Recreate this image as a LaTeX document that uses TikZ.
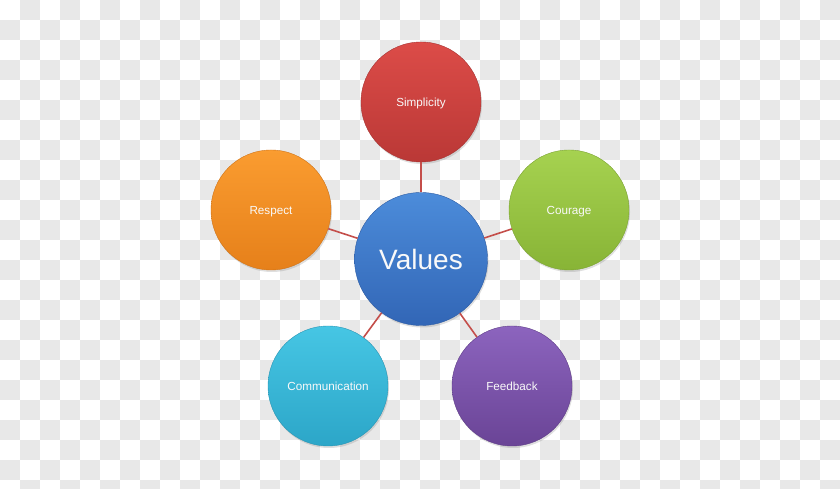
\documentclass[tikz,border=0pt]{standalone}
\usepackage{fontspec}
\setmainfont{Liberation Sans}
\usepackage{tikz}
\usetikzlibrary{positioning}
\usetikzlibrary{shadows}
\definecolor{checker}{RGB}{232,232,232}
\definecolor{linkred}{RGB}{196,78,74}
\definecolor{simptop}{RGB}{220,76,72}
\definecolor{simpbot}{RGB}{186,56,54}
\definecolor{courtop}{RGB}{166,210,80}
\definecolor{courbot}{RGB}{136,180,54}
\definecolor{resptop}{RGB}{250,156,48}
\definecolor{respbot}{RGB}{230,128,26}
\definecolor{valtop}{RGB}{76,140,218}
\definecolor{valbot}{RGB}{50,102,182}
\definecolor{commtop}{RGB}{70,198,228}
\definecolor{commbot}{RGB}{44,166,200}
\definecolor{feedtop}{RGB}{140,100,190}
\definecolor{feedbot}{RGB}{106,68,150}
\tikzstyle{every value} = [circle, minimum size=120pt, inner sep=0pt, text=white!95!gray, font=\fontsize{11.7}{14}\selectfont, drop shadow={opacity=0.25, shadow xshift=1pt, shadow yshift=-2pt}]
\tikzstyle{value} = [every value, text depth=-2pt]
\tikzstyle{core} = [value, minimum size=133pt, font=\fontsize{28}{32}\selectfont]
\tikzstyle{link} = [draw=linkred, line width=1.6pt]

\begin{document}
\begin{tikzpicture}[x=1pt, y=1pt]
                    \useasboundingbox (0,0) rectangle (840,489);
                    \clip (0,0) rectangle (840,489);
                    % checker background
                    \foreach \i in {0,...,41} {
                        \foreach \j in {0,...,24} {
                            \pgfmathtruncatemacro\odd{mod(\i+\j,2)}
                            \ifnum\odd=1
                                \fill[checker] (20*\i,489-20*\j) rectangle ++(20,-20);
                            \fi
                        }
                    }

                    \node[core, top color=valtop, bottom color=valbot, draw=valbot!90!black] (values) at (421,230) {Values};

                    \node[value, top color=simptop, bottom color=simpbot, draw=simpbot!90!black] (simplicity) at (421,387) {Simplicity};
                    \node[value, top color=courtop, bottom color=courbot, draw=courbot!90!black] (courage) at (569,279) {Courage};
                    \node[value, top color=resptop, bottom color=respbot, draw=respbot!90!black] (respect) at (271,279) {Respect};
                    \node[value, top color=commtop, bottom color=commbot, draw=commbot!90!black] (communication) at (328,103) {Communication};
                    \node[value, top color=feedtop, bottom color=feedbot, draw=feedbot!90!black] (feedback) at (512,103) {Feedback};

                    \draw[link] (values) -- (simplicity);
                    \draw[link] (values) -- (courage);
                    \draw[link] (values) -- (respect);
                    \draw[link] (values) -- (communication);
                    \draw[link] (values) -- (feedback);
                \end{tikzpicture}
\end{document}
